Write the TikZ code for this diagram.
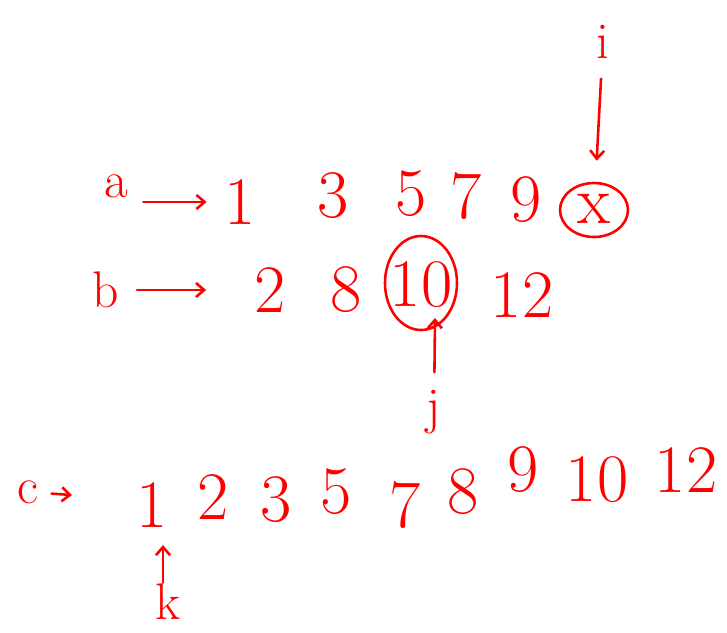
\documentclass[tikz,border=0pt]{standalone}
\usepackage{tikz}
\usetikzlibrary{arrows.meta,positioning,shapes.geometric}
\definecolor{ink}{RGB}{255,0,0}

\begin{document}
\begin{tikzpicture}[x=0.03cm,y=-0.03cm,
  num/.style={text=ink,font=\fontsize{58}{58}\selectfont,inner sep=1pt},
  lbl/.style={text=ink,font=\fontsize{44}{44}\selectfont,inner sep=1pt},
  ring/.style={ellipse,draw=ink,line width=2.2pt,inner sep=0pt},
  ptr/.style={draw=ink,line width=2.2pt,line cap=round,-{Straight Barb[length=7pt,width=12pt]}}]
\useasboundingbox (0,0) rectangle (727,632);
% row a
\node[lbl] (la) at (116,186) {a};
\node[num] (a1) at (240,202) {1};
\node[num] (a3) at (333,196) {3};
\node[num] (a5) at (411,194) {5};
\node[num] (a7) at (466,196) {7};
\node[num] (a9) at (526,200) {9};
\node[num] (ax) at (594,209) {x};
\node[ring,minimum width=68*0.03cm,minimum height=54*0.03cm] (ringa) at (594,210) {};
\draw[ptr,shorten <=12pt,shorten >=14pt] (la.east |- a1.west) -- (a1.west);
% pointer i
\node[lbl] (li) at (603,42) {i};
\draw[ptr,shorten <=16pt,shorten >=18pt] (li) -- (ringa);
% row b
\node[lbl] (lb) at (106,290) {b};
\node[num] (b2) at (270,290) {2};
\node[num] (b8) at (346,290) {8};
\node[num] (b10) at (421,285) {10};
\node[num] (b12) at (522,295) {12};
\node[ring,minimum width=72*0.03cm,minimum height=94*0.03cm] (ringb) at (421,283) {};
\draw[ptr,shorten <=14pt,shorten >=40pt] (lb) -- (b2);
% pointer j
\node[lbl] (lj) at (434,412) {j};
\coordinate (jtip) at (435,318);
\draw[ptr,shorten <=14pt] (lj) -- (jtip);
% row c
\node[lbl] (lc) at (28,492) {c};
\node[num] (c1) at (152,505) {1};
\node[num] (c2) at (213,497) {2};
\node[num] (c3) at (276,500) {3};
\node[num] (c5) at (336,492) {5};
\node[num] (c7) at (405,505) {7};
\node[num] (c8) at (463,492) {8};
\node[num] (c9) at (523,470) {9};
\node[num] (c10) at (597,480) {10};
\node[num] (c12) at (686,470) {12};
\coordinate (ctip) at (72,495);
\draw[ptr,shorten <=10pt] (lc) -- (ctip);
% pointer k
\node[lbl] (lk) at (168,602) {k};
\coordinate (ktip) at (163,545);
\draw[ptr] (lk.north -| ktip) -- (ktip);
\end{tikzpicture}
\end{document}
